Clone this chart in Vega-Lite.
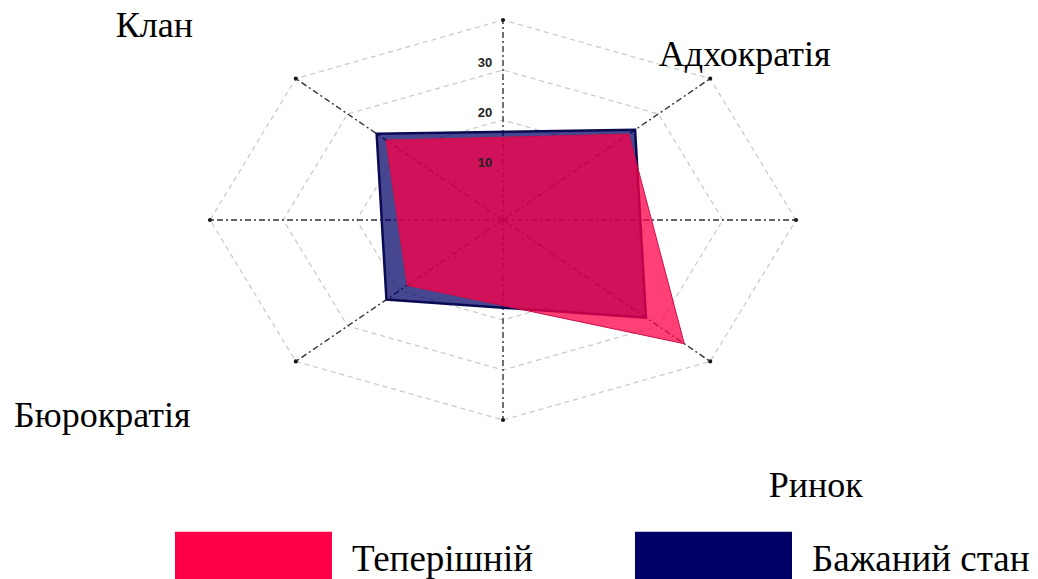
{
  "$schema": "https://vega.github.io/schema/vega-lite/v6.json",
  "width": 586,
  "height": 400,
  "autosize": {"type": "none"},
  "padding": {"left": 210, "top": 20, "right": 242, "bottom": 159},
  "background": "white",
  "config": {
    "view": {"stroke": null},
    "font": "'Liberation Serif', serif",
    "legend": {
      "orient": "none",
      "legendX": -35,
      "legendY": 461,
      "direction": "horizontal",
      "title": null,
      "padding": 0,
      "symbolType": "M-1,-0.357H1V0.357H-1Z",
      "symbolSize": 24649,
      "symbolStrokeWidth": 0,
      "symbolOpacity": 1,
      "labelFont": "'Liberation Serif', serif",
      "labelFontSize": 37,
      "labelColor": "#000000",
      "labelOffset": 20,
      "labelLimit": 500,
      "columnPadding": 102
    }
  },
  "datasets": {
    "grid": [
      {"a": 0, "rings": [10, 20, 30, 40]},
      {"a": 45, "rings": [10, 20, 30, 40]},
      {"a": 90, "rings": [10, 20, 30, 40]},
      {"a": 135, "rings": [10, 20, 30, 40]},
      {"a": 180, "rings": [10, 20, 30, 40]},
      {"a": 225, "rings": [10, 20, 30, 40]},
      {"a": 270, "rings": [10, 20, 30, 40]},
      {"a": 315, "rings": [10, 20, 30, 40]}
    ],
    "culture": [
      {"s": "Бажаний стан", "c": "Клан", "a": 135, "v": 24.4, "i": 0},
      {"s": "Бажаний стан", "c": "Адхократія", "a": 45, "v": 25.5, "i": 1},
      {"s": "Бажаний стан", "c": "Ринок", "a": -45, "v": 27.6, "i": 2},
      {"s": "Бажаний стан", "c": "Бюрократія", "a": -135, "v": 22.5, "i": 3},
      {"s": "Теперішній", "c": "Клан", "a": 135, "v": 22.6, "i": 0},
      {"s": "Теперішній", "c": "Адхократія", "a": 45, "v": 24.3, "i": 1},
      {"s": "Теперішній", "c": "Ринок", "a": -45, "v": 35.0, "i": 2},
      {"s": "Теперішній", "c": "Бюрократія", "a": -135, "v": 18.5, "i": 3}
    ],
    "names": [
      {"c": "Клан"},
      {"c": "Адхократія"},
      {"c": "Ринок"},
      {"c": "Бюрократія"}
    ]
  },
  "layer": [
    {
      "data": {"name": "grid"},
      "transform": [
        {"flatten": ["rings"], "as": ["r"]},
        {"calculate": "datum.r*cos(datum.a*PI/180)", "as": "gx"},
        {"calculate": "datum.r*sin(datum.a*PI/180)", "as": "gy"}
      ],
      "mark": {"type": "line", "interpolate": "linear-closed", "stroke": "#c8c8c8", "strokeWidth": 1.2, "strokeDash": [5, 4]},
      "encoding": {
        "x": {"field": "gx", "type": "quantitative", "scale": {"domain": [-40, 40], "nice": false, "zero": false}, "axis": null},
        "y": {"field": "gy", "type": "quantitative", "scale": {"domain": [-40, 40], "nice": false, "zero": false}, "axis": null},
        "detail": {"field": "r", "type": "nominal"},
        "order": {"field": "a", "type": "quantitative"}
      }
    },
    {
      "data": {"name": "grid"},
      "transform": [
        {"flatten": ["rings"], "as": ["r"]},
        {"filter": "datum.r == 40"},
        {"calculate": "datum.r*cos(datum.a*PI/180)", "as": "gx"},
        {"calculate": "datum.r*sin(datum.a*PI/180)", "as": "gy"},
        {"calculate": "0", "as": "zero"}
      ],
      "mark": {"type": "rule", "stroke": "#333333", "strokeWidth": 1.4, "strokeDash": [6, 3, 2, 3]},
      "encoding": {
        "x": {"field": "zero", "type": "quantitative"},
        "y": {"field": "zero", "type": "quantitative"},
        "x2": {"field": "gx"},
        "y2": {"field": "gy"}
      }
    },
    {
      "data": {"name": "grid"},
      "transform": [
        {"flatten": ["rings"], "as": ["r"]},
        {"filter": "datum.r == 40"},
        {"calculate": "datum.r*cos(datum.a*PI/180)", "as": "gx"},
        {"calculate": "datum.r*sin(datum.a*PI/180)", "as": "gy"}
      ],
      "mark": {"type": "point", "filled": true, "size": 18, "color": "#1a1a1a", "opacity": 1},
      "encoding": {
        "x": {"field": "gx", "type": "quantitative"},
        "y": {"field": "gy", "type": "quantitative"}
      }
    },
    {
      "data": {"name": "culture"},
      "transform": [
        {"filter": "datum.s == 'Бажаний стан'"},
        {"calculate": "datum.v*cos(datum.a*PI/180)", "as": "px"},
        {"calculate": "datum.v*sin(datum.a*PI/180)", "as": "py"}
      ],
      "mark": {"type": "line", "interpolate": "linear-closed", "fillOpacity": 0.72, "stroke": "#0b0b52", "strokeWidth": 2.5},
      "encoding": {
        "x": {"field": "px", "type": "quantitative"},
        "y": {"field": "py", "type": "quantitative"},
        "order": {"field": "i", "type": "quantitative"},
        "fill": {"field": "s", "type": "nominal", "scale": {"domain": ["Теперішній", "Бажаний стан"], "range": ["#ff0048", "#000066"]}}
      }
    },
    {
      "data": {"name": "culture"},
      "transform": [
        {"filter": "datum.s == 'Теперішній'"},
        {"calculate": "datum.v*cos(datum.a*PI/180)", "as": "px"},
        {"calculate": "datum.v*sin(datum.a*PI/180)", "as": "py"}
      ],
      "mark": {"type": "line", "interpolate": "linear-closed", "fillOpacity": 0.75, "stroke": "#c8104a", "strokeWidth": 1},
      "encoding": {
        "x": {"field": "px", "type": "quantitative"},
        "y": {"field": "py", "type": "quantitative"},
        "order": {"field": "i", "type": "quantitative"},
        "fill": {"field": "s", "type": "nominal"}
      }
    },
    {
      "data": {"name": "grid"},
      "transform": [
        {"flatten": ["rings"], "as": ["r"]},
        {"filter": "datum.a == 90 && datum.r < 40"},
        {"calculate": "datum.r*cos(datum.a*PI/180)", "as": "gx"},
        {"calculate": "datum.r*sin(datum.a*PI/180)", "as": "gy"}
      ],
      "mark": {"type": "text", "font": "'Liberation Sans', Arial, sans-serif", "fontWeight": "bold", "fontSize": 13, "color": "#222222", "dx": -18, "dy": -7, "align": "center", "baseline": "middle"},
      "encoding": {
        "x": {"field": "gx", "type": "quantitative"},
        "y": {"field": "gy", "type": "quantitative"},
        "text": {"field": "r", "type": "quantitative"}
      }
    },
    {
      "data": {"name": "names"},
      "transform": [{"filter": "datum.c == 'Клан'"}],
      "mark": {"type": "text", "font": "'Liberation Serif', serif", "fontSize": 36, "color": "#000000", "align": "center", "baseline": "alphabetic"},
      "encoding": {"x": {"datum": -47.6, "type": "quantitative"}, "y": {"datum": 36.6, "type": "quantitative"}, "text": {"field": "c", "type": "nominal"}}
    },
    {
      "data": {"name": "names"},
      "transform": [{"filter": "datum.c == 'Адхократія'"}],
      "mark": {"type": "text", "font": "'Liberation Serif', serif", "fontSize": 36, "color": "#000000", "align": "center", "baseline": "alphabetic"},
      "encoding": {"x": {"datum": 33.0, "type": "quantitative"}, "y": {"datum": 30.8, "type": "quantitative"}, "text": {"field": "c", "type": "nominal"}}
    },
    {
      "data": {"name": "names"},
      "transform": [{"filter": "datum.c == 'Бюрократія'"}],
      "mark": {"type": "text", "font": "'Liberation Serif', serif", "fontSize": 36, "color": "#000000", "align": "center", "baseline": "alphabetic"},
      "encoding": {"x": {"datum": -54.7, "type": "quantitative"}, "y": {"datum": -41.3, "type": "quantitative"}, "text": {"field": "c", "type": "nominal"}}
    },
    {
      "data": {"name": "names"},
      "transform": [{"filter": "datum.c == 'Ринок'"}],
      "mark": {"type": "text", "font": "'Liberation Serif', serif", "fontSize": 36, "color": "#000000", "align": "center", "baseline": "alphabetic"},
      "encoding": {"x": {"datum": 42.7, "type": "quantitative"}, "y": {"datum": -55.3, "type": "quantitative"}, "text": {"field": "c", "type": "nominal"}}
    }
  ]
}
